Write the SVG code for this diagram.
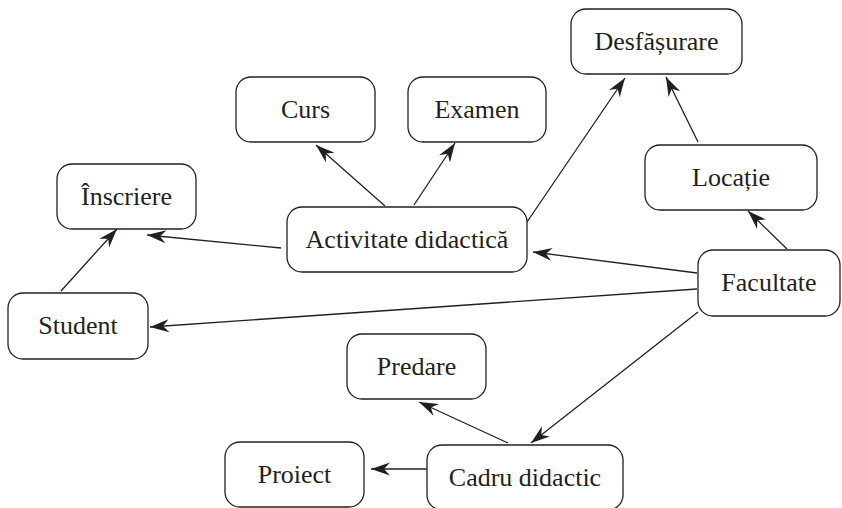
<svg xmlns="http://www.w3.org/2000/svg" width="842" height="508" viewBox="0 0 842 508">
<style>
.box{fill:#fff;stroke:#231f20;stroke-width:1.3}
.lbl{font-family:"Liberation Serif","Times New Roman",serif;font-size:26px;fill:#231f20;text-anchor:middle}
.edge{stroke:#231f20;stroke-width:1.3;fill:none;marker-end:url(#ah)}
</style>
<defs>
<marker id="ah" markerUnits="userSpaceOnUse" markerWidth="24" markerHeight="16" viewBox="-20 -8 22 16" refX="0" refY="0" orient="auto">
<path d="M0,0 L-19,-6.5 L-13,0 L-19,6.5 z" fill="#231f20"/>
</marker>
</defs>
<rect width="842" height="508" fill="#fff"/>
<g id="connectors">
<line class="edge" x1="385" y1="206" x2="316" y2="145"/>
<line class="edge" x1="414" y1="205" x2="455" y2="143"/>
<line class="edge" x1="527" y1="222" x2="625" y2="78"/>
<line class="edge" x1="698" y1="142" x2="666" y2="77"/>
<line class="edge" x1="787" y1="249" x2="748" y2="211"/>
<line class="edge" x1="697" y1="273" x2="533" y2="252"/>
<line class="edge" x1="697" y1="289" x2="150" y2="327"/>
<line class="edge" x1="698" y1="312" x2="531" y2="443"/>
<line class="edge" x1="508" y1="443" x2="419" y2="402"/>
<line class="edge" x1="427" y1="469" x2="371" y2="469"/>
<line class="edge" x1="61" y1="291" x2="117" y2="229"/>
<line class="edge" x1="281" y1="248" x2="147" y2="235"/>
</g>
<g id="curs"><rect class="box" x="236" y="77" width="139" height="65" rx="15"/><text class="lbl" x="305.5" y="118">Curs</text></g>
<g id="examen"><rect class="box" x="408" y="77" width="138" height="65" rx="15"/><text class="lbl" x="477" y="118">Examen</text></g>
<g id="desfasurare"><rect class="box" x="571" y="9" width="171" height="65" rx="15"/><text class="lbl" x="656.5" y="50">Desfășurare</text></g>
<g id="inscriere"><rect class="box" x="57" y="164" width="139" height="65" rx="15"/><text class="lbl" x="126.5" y="205">Înscriere</text></g>
<g id="locatie"><rect class="box" x="645" y="145" width="172" height="65" rx="15"/><text class="lbl" x="731" y="186">Locație</text></g>
<g id="activitate"><rect class="box" x="287" y="207" width="240" height="65" rx="15"/><text class="lbl" x="407" y="248">Activitate didactică</text></g>
<g id="facultate"><rect class="box" x="698" y="250" width="142" height="66" rx="15"/><text class="lbl" x="769" y="291">Facultate</text></g>
<g id="student"><rect class="box" x="8" y="293" width="140" height="66" rx="15"/><text class="lbl" x="78" y="334">Student</text></g>
<g id="predare"><rect class="box" x="347" y="334" width="139" height="65" rx="15"/><text class="lbl" x="416.5" y="375">Predare</text></g>
<g id="proiect"><rect class="box" x="225" y="442" width="139" height="65" rx="15"/><text class="lbl" x="294.5" y="483">Proiect</text></g>
<g id="cadru"><rect class="box" x="427" y="445" width="196" height="65" rx="15"/><text class="lbl" x="525" y="486">Cadru didactic</text></g>
</svg>
